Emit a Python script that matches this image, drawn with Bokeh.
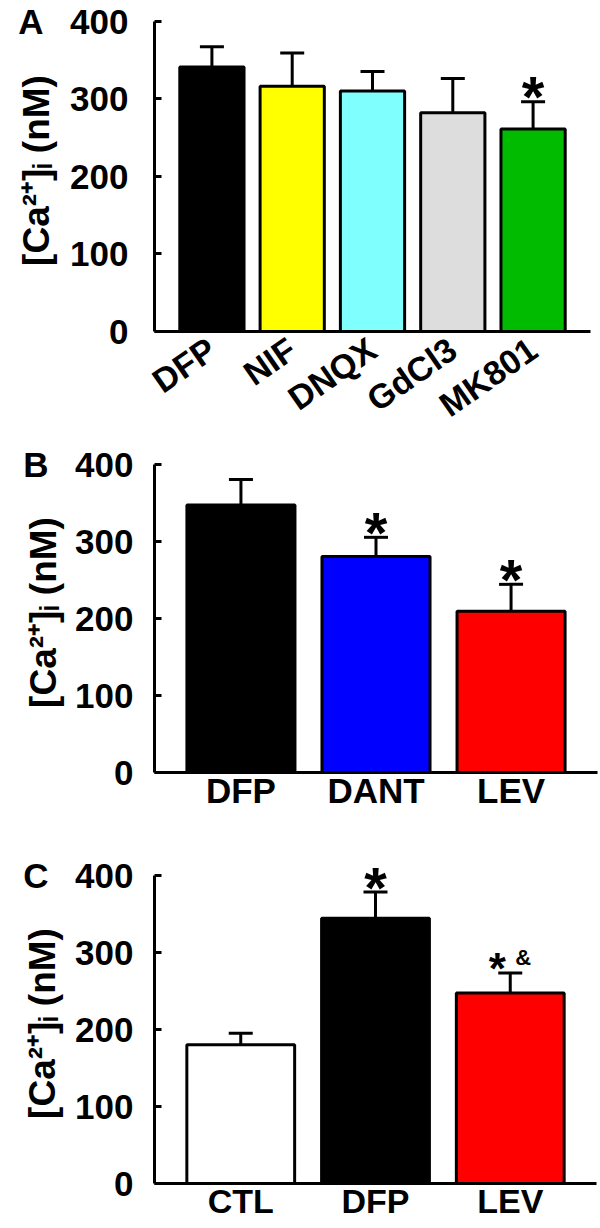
import math
from bokeh.plotting import figure
from bokeh.models import FactorRange, FixedTicker, Whisker, ColumnDataSource, TeeHead
from bokeh.layouts import column
from bokeh.embed import file_html
from bokeh.resources import INLINE
from bokeh.core.properties import value

FONT = "Liberation Sans"

# ---------------- data ----------------
a_cats = ["DFP", "NIF", "DNQX", "GdCl3", "MK801"]
a_means = [341, 316, 310, 282, 261]
a_errs = [26, 43, 25, 44, 35]
a_colors = ["#000000", "#FFFF00", "#80FFFF", "#DDDDDD", "#00BB00"]
a_marks = ["", "", "", "", "*"]
a_marks2 = ["", "", "", "", ""]

b_cats = ["DFP", "DANT", "LEV"]
b_means = [347, 280, 209]
b_errs = [33, 25, 35]
b_colors = ["#000000", "#0000FF", "#FF0000"]
b_marks = ["", "*", "*"]
b_marks2 = ["", "", ""]

c_cats = ["CTL", "DFP", "LEV"]
c_means = [180, 344, 247]
c_errs = [15, 34, 26]
c_colors = ["#FFFFFF", "#000000", "#FF0000"]
c_marks = ["", "*", "*"]
c_marks2 = ["", "", "&"]

y_ticks = [0, 100, 200, 300, 400]
y_title = "[Ca\u00b2\u207a]\u1d62 (nM)"
panel_letters = ["A", "B", "C"]

W = 600
Y_END = 415
GAP = "\u00a0\u00a0\u2009"   # space between the panel letter and the top tick label


def make_panel(cats, means, errs, colors, marks, marks2, letter, left, top_b, frame_h,
               bottom_b, pad, label_angle, xlab_size, xlab_standoff, mark_xoff,
               mark_size, mark_yoff, ylab_standoff):
    fw = 590 - left
    x_range = FactorRange(factors=cats, range_padding=pad, range_padding_units="absolute")
    p = figure(x_range=x_range, y_range=(0, Y_END), frame_width=fw, frame_height=frame_h,
               min_border_left=left, min_border_right=W - 590,
               min_border_top=top_b, min_border_bottom=bottom_b,
               output_backend="svg", toolbar_location=None)
    p.outline_line_color = None
    p.grid.visible = False

    src = ColumnDataSource(dict(
        x=cats, top=means, upper=[m + e for m, e in zip(means, errs)],
        color=colors, mark=marks, mark2=marks2, xoff=mark_xoff,
        msize=mark_size, myoff=mark_yoff))

    p.vbar(x="x", top="top", bottom=0, width=0.8, fill_color="color",
           line_color="black", line_width=3, source=src)
    wh = Whisker(base="x", lower="top", upper="upper", source=src, dimension="height",
                 line_color="black", line_width=3,
                 upper_head=TeeHead(size=24, line_color="black", line_width=3),
                 lower_head=None, level="glyph")
    p.add_layout(wh)
    p.text(x="x", y="upper", text="mark", source=src, text_font=value(FONT),
           text_font_style="bold", text_font_size="msize", text_align="center",
           text_baseline="alphabetic", y_offset="myoff", x_offset="xoff",
           text_color="black")
    p.text(x="x", y="upper", text="mark2", source=src, text_font=value(FONT),
           text_font_style="bold", text_font_size="22px", text_align="left",
           text_baseline="alphabetic", y_offset=-15, x_offset=5, text_color="black")

    ya = p.yaxis[0]
    ya.ticker = FixedTicker(ticks=y_ticks)
    ya.bounds = (0, 400)
    ya.axis_line_width = 3
    ya.axis_line_color = "black"
    ya.major_tick_in = 7
    ya.major_tick_out = 0
    ya.major_tick_line_width = 3
    ya.minor_tick_line_color = None
    ya.major_label_text_font = FONT
    ya.major_label_text_font_style = "bold"
    ya.major_label_text_font_size = "35px"
    ya.major_label_text_color = "black"
    ya.major_label_standoff = ylab_standoff
    # the panel letter sits on the same line as the top tick label
    ya.major_label_overrides = {y_ticks[-1]: letter + GAP + str(y_ticks[-1])}
    ya.axis_label = y_title
    ya.axis_label_text_font = FONT
    ya.axis_label_text_font_style = "bold"
    ya.axis_label_text_font_size = "37px"
    ya.axis_label_text_color = "black"
    # pull the title back in so that it sits under the letter, as in the original
    ya.axis_label_standoff = left - ylab_standoff - 113 - 57

    xa = p.xaxis[0]
    xa.axis_line_width = 3
    xa.axis_line_color = "black"
    xa.major_tick_line_color = None
    xa.minor_tick_line_color = None
    xa.major_label_text_font = FONT
    xa.major_label_text_font_style = "bold"
    xa.major_label_text_font_size = xlab_size
    xa.major_label_text_color = "black"
    xa.major_label_standoff = xlab_standoff
    if label_angle:
        xa.major_label_orientation = label_angle
    return p


# canvas rows: A 0-440, B 440-848, C 848-1227
pA = make_panel(a_cats, a_means, a_errs, a_colors, a_marks, a_marks2, panel_letters[0],
                left=154, top_b=9, frame_h=322, bottom_b=109, pad=0.215,
                label_angle=0.61, xlab_size="34px", xlab_standoff=8,
                mark_xoff=[0, 0, 0, 0, 0], mark_size=["58px"] * 5, mark_yoff=[-5] * 5,
                ylab_standoff=26)
pB = make_panel(b_cats, b_means, b_errs, b_colors, b_marks, b_marks2, panel_letters[1],
                left=147, top_b=10, frame_h=320, bottom_b=78, pad=0.14,
                label_angle=None, xlab_size="35px", xlab_standoff=-8,
                mark_xoff=[0, 0, 0], mark_size=["58px"] * 3, mark_yoff=[-5] * 3,
                ylab_standoff=21)
pC = make_panel(c_cats, c_means, c_errs, c_colors, c_marks, c_marks2, panel_letters[2],
                left=148, top_b=13, frame_h=320, bottom_b=46, pad=0.14,
                label_angle=None, xlab_size="34px", xlab_standoff=-8,
                mark_xoff=[0, 0, -13], mark_size=["58px", "58px", "44px"],
                mark_yoff=[-5, -5, -4], ylab_standoff=21)

layout = column(pA, pB, pC, spacing=0)
open("out.html", "w").write(file_html(layout, INLINE))
